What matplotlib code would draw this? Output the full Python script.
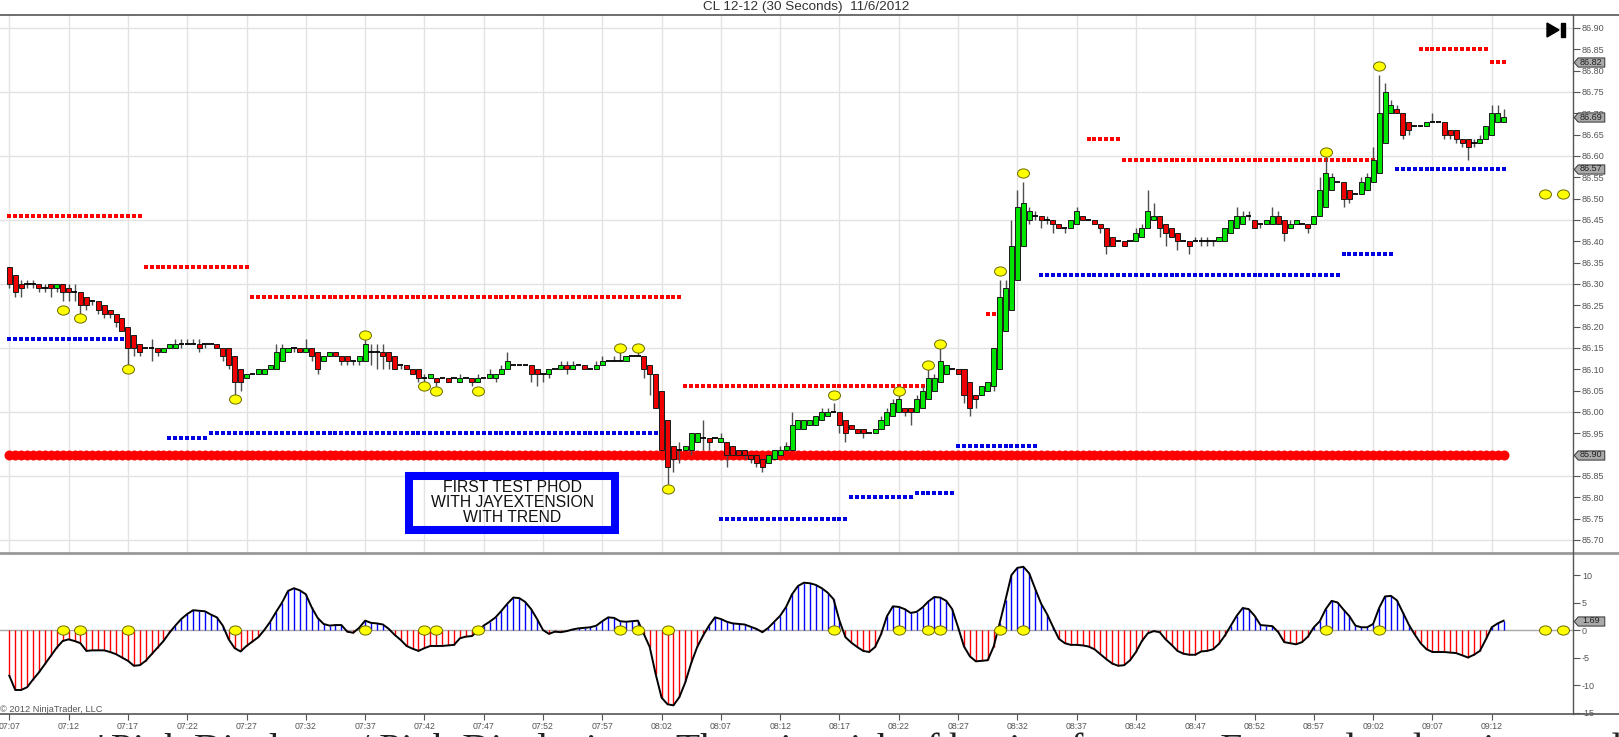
import numpy as np
import matplotlib
matplotlib.use("Agg")
from matplotlib import pyplot as plt
from matplotlib.path import Path
from matplotlib.transforms import Affine2D, blended_transform_factory
from matplotlib.patches import Rectangle, Polygon
from matplotlib.lines import Line2D

plt.rcParams['font.family'] = ['Liberation Sans', 'DejaVu Sans']

title = "CL 12-12 (30 Seconds)  11/6/2012"

# 30 second bars, 07:07:00 .. 09:13:00
opens = [
    86.34, 86.32, 86.30, 86.30, 86.30, 86.30, 86.29, 86.30, 86.29, 86.30,
    86.29, 86.28, 86.28, 86.27, 86.26, 86.26, 86.25, 86.24, 86.23, 86.22,
    86.20, 86.18, 86.16, 86.15, 86.15, 86.15, 86.14, 86.15, 86.15, 86.16,
    86.16, 86.16, 86.16, 86.16, 86.16, 86.16, 86.15, 86.15, 86.13, 86.10,
    86.08, 86.09, 86.09, 86.09, 86.10, 86.10, 86.12, 86.14, 86.15, 86.15,
    86.14, 86.15, 86.14, 86.12, 86.13, 86.14, 86.13, 86.13, 86.12, 86.12,
    86.12, 86.14, 86.14, 86.14, 86.14, 86.13, 86.11, 86.11, 86.10, 86.10,
    86.08, 86.08, 86.08, 86.08, 86.08, 86.08, 86.07, 86.08, 86.08, 86.07,
    86.08, 86.08, 86.08, 86.09, 86.10, 86.11, 86.11, 86.11, 86.11, 86.10,
    86.09, 86.09, 86.10, 86.10, 86.11, 86.10, 86.11, 86.11, 86.10, 86.10,
    86.11, 86.12, 86.12, 86.12, 86.12, 86.13, 86.13, 86.13, 86.11, 86.09,
    86.05, 85.98, 85.92, 85.91, 85.91, 85.91, 85.93, 85.94, 85.94, 85.94,
    85.93, 85.93, 85.92, 85.91, 85.91, 85.90, 85.90, 85.89, 85.88, 85.89,
    85.90, 85.91, 85.91, 85.96, 85.96, 85.97, 85.97, 85.98, 85.99, 86.00,
    86.00, 85.98, 85.97, 85.96, 85.96, 85.95, 85.95, 85.96, 85.97, 85.99,
    86.00, 86.01, 86.01, 86.00, 86.01, 86.03, 86.05, 86.07, 86.09, 86.10,
    86.10, 86.10, 86.07, 86.04, 86.04, 86.05, 86.06, 86.10, 86.19, 86.24,
    86.31, 86.39, 86.45, 86.46, 86.46, 86.45, 86.45, 86.44, 86.43, 86.43,
    86.44, 86.46, 86.45, 86.45, 86.44, 86.43, 86.41, 86.40, 86.40, 86.40,
    86.40, 86.41, 86.43, 86.45, 86.46, 86.44, 86.43, 86.42, 86.40, 86.40,
    86.40, 86.40, 86.40, 86.40, 86.40, 86.40, 86.42, 86.43, 86.44, 86.46,
    86.45, 86.44, 86.44, 86.44, 86.46, 86.45, 86.43, 86.44, 86.44, 86.44,
    86.44, 86.46, 86.48, 86.52, 86.54, 86.54, 86.52, 86.51, 86.51, 86.52,
    86.54, 86.56, 86.63, 86.70, 86.71, 86.70, 86.68, 86.67, 86.67, 86.67,
    86.68, 86.68, 86.68, 86.66, 86.66, 86.64, 86.64, 86.63, 86.63, 86.64,
    86.65, 86.68, 86.68,
]
closes = [
    86.30, 86.28, 86.29, 86.30, 86.30, 86.29, 86.29, 86.29, 86.30, 86.28,
    86.28, 86.28, 86.25, 86.25, 86.26, 86.24, 86.23, 86.23, 86.21, 86.19,
    86.15, 86.15, 86.14, 86.15, 86.15, 86.14, 86.15, 86.16, 86.16, 86.16,
    86.16, 86.16, 86.15, 86.16, 86.16, 86.15, 86.13, 86.11, 86.07, 86.07,
    86.09, 86.09, 86.10, 86.10, 86.11, 86.14, 86.15, 86.15, 86.15, 86.14,
    86.15, 86.13, 86.10, 86.13, 86.14, 86.13, 86.12, 86.12, 86.12, 86.13,
    86.16, 86.14, 86.14, 86.13, 86.12, 86.10, 86.11, 86.10, 86.09, 86.08,
    86.08, 86.09, 86.07, 86.08, 86.07, 86.08, 86.08, 86.08, 86.07, 86.08,
    86.08, 86.09, 86.09, 86.10, 86.12, 86.11, 86.11, 86.11, 86.09, 86.09,
    86.09, 86.10, 86.10, 86.11, 86.10, 86.11, 86.11, 86.10, 86.10, 86.11,
    86.12, 86.12, 86.12, 86.12, 86.13, 86.13, 86.13, 86.10, 86.09, 86.01,
    85.91, 85.87, 85.89, 85.91, 85.92, 85.95, 85.95, 85.94, 85.93, 85.94,
    85.94, 85.90, 85.90, 85.90, 85.90, 85.89, 85.88, 85.87, 85.90, 85.91,
    85.91, 85.92, 85.97, 85.98, 85.98, 85.98, 85.99, 86.00, 86.00, 86.00,
    85.97, 85.95, 85.96, 85.95, 85.95, 85.95, 85.96, 85.98, 86.00, 86.02,
    86.03, 86.00, 86.00, 86.03, 86.05, 86.08, 86.08, 86.12, 86.11, 86.10,
    86.09, 86.04, 86.01, 86.03, 86.06, 86.07, 86.15, 86.27, 86.29, 86.39,
    86.48, 86.49, 86.47, 86.46, 86.45, 86.45, 86.44, 86.43, 86.43, 86.45,
    86.47, 86.45, 86.45, 86.44, 86.43, 86.39, 86.39, 86.40, 86.39, 86.40,
    86.42, 86.43, 86.47, 86.46, 86.43, 86.42, 86.41, 86.40, 86.40, 86.39,
    86.40, 86.40, 86.40, 86.40, 86.41, 86.43, 86.45, 86.46, 86.46, 86.46,
    86.43, 86.44, 86.45, 86.46, 86.44, 86.42, 86.44, 86.45, 86.44, 86.43,
    86.46, 86.52, 86.56, 86.55, 86.54, 86.50, 86.50, 86.51, 86.54, 86.55,
    86.59, 86.70, 86.75, 86.72, 86.70, 86.65, 86.66, 86.67, 86.67, 86.68,
    86.68, 86.68, 86.65, 86.65, 86.64, 86.63, 86.62, 86.63, 86.64, 86.67,
    86.70, 86.70, 86.69,
]
# wick length beyond the body, in ticks of 0.01
wick_up = [
    0, 0, 1, 1, 1, 0, 1, 0, 0, 0,   1, 2, 0, 0, 0, 0, 0, 0, 0, 0,
    0, 0, 0, 0, 2, 0, 0, 0, 1, 1,   1, 1, 1, 0, 0, 0, 0, 0, 0, 0,
    0, 0, 0, 0, 0, 2, 1, 0, 0, 0,   2, 0, 0, 0, 0, 0, 0, 0, 0, 0,
    1, 2, 2, 2, 0, 0, 0, 0, 0, 0,   1, 0, 0, 0, 0, 0, 1, 0, 0, 1,
    0, 1, 0, 1, 2, 0, 0, 0, 0, 0,   0, 0, 0, 1, 1, 1, 0, 0, 0, 1,
    1, 0, 1, 2, 0, 0, 1, 0, 0, 0,   0, 0, 0, 2, 0, 0, 0, 4, 0, 0,
    1, 0, 0, 0, 0, 0, 0, 0, 0, 0,   1, 1, 3, 0, 0, 0, 0, 1, 1, 2,
    0, 0, 0, 0, 0, 0, 0, 1, 1, 1,   1, 0, 0, 1, 1, 2, 1, 3, 0, 0,
    0, 0, 0, 0, 0, 0, 0, 4, 2, 6,   4, 5, 1, 1, 0, 1, 0, 0, 0, 0,
    1, 0, 0, 0, 0, 0, 0, 0, 0, 0,   1, 1, 5, 3, 0, 0, 0, 0, 0, 0,
    1, 1, 1, 0, 0, 0, 0, 2, 1, 1,   0, 0, 0, 2, 1, 0, 1, 0, 0, 0,
    0, 3, 4, 1, 0, 0, 0, 0, 1, 1,   3, 9, 2, 1, 1, 0, 0, 0, 0, 0,
    2, 0, 0, 0, 0, 0, 0, 1, 1, 0,   2, 2, 2,
]
wick_dn = [
    1, 1, 2, 1, 1, 1, 1, 2, 1, 2,   2, 2, 2, 1, 1, 1, 1, 1, 1, 0,
    4, 2, 1, 0, 3, 1, 0, 0, 0, 1,   0, 0, 1, 1, 0, 0, 1, 1, 3, 2,
    0, 0, 0, 0, 0, 0, 0, 0, 1, 0,   0, 1, 1, 0, 0, 0, 1, 1, 1, 1,
    0, 3, 4, 3, 2, 0, 1, 0, 0, 1,   1, 0, 1, 0, 0, 0, 0, 0, 1, 0,
    0, 0, 1, 0, 0, 0, 0, 0, 2, 3,   2, 1, 0, 0, 1, 0, 0, 0, 0, 0,
    0, 0, 0, 0, 0, 0, 0, 2, 5, 0,   0, 4, 3, 3, 0, 1, 0, 3, 2, 0,
    0, 3, 0, 0, 1, 1, 1, 1, 0, 0,   0, 0, 0, 0, 0, 0, 0, 0, 0, 0,
    2, 2, 0, 0, 1, 0, 0, 0, 0, 0,   0, 1, 3, 0, 0, 0, 0, 0, 0, 0,
    0, 2, 2, 2, 0, 0, 1, 0, 0, 0,   0, 0, 1, 1, 2, 1, 2, 0, 1, 0,
    0, 0, 0, 0, 1, 2, 0, 0, 0, 0,   0, 0, 0, 0, 2, 3, 0, 2, 0, 2,
    0, 1, 1, 1, 0, 0, 0, 0, 0, 1,   0, 1, 0, 0, 0, 2, 0, 0, 0, 1,
    0, 0, 0, 0, 0, 2, 1, 0, 0, 0,   0, 0, 0, 0, 0, 1, 1, 0, 0, 0,
    0, 0, 1, 1, 1, 1, 3, 1, 0, 0,   0, 0, 0,
]
osc = [
    -8.3, -10.9, -10.9, -10.4, -9.0, -7.7, -6.2, -4.7, -3.2, -2.0,
    -1.7, -2.0, -2.4, -3.8, -3.7, -3.7, -3.7, -4.0, -4.4, -5.0,
    -5.6, -6.5, -6.4, -5.6, -4.4, -3.2, -2.0, -0.5, 0.8, 2.0,
    2.9, 3.6, 3.5, 3.4, 2.8, 2.3, 0.8, -1.7, -3.3, -3.9,
    -2.9, -2.1, -1.3, 0.0, 1.5, 3.3, 5.0, 7.1, 7.6, 7.2,
    6.5, 4.1, 2.2, 1.1, 0.8, 0.9, 0.9, -0.3, -0.5, 0.4,
    1.7, 1.3, 1.2, 1.0, 0.2, -0.9, -1.8, -2.9, -3.4, -3.8,
    -3.3, -2.9, -2.9, -2.9, -2.8, -2.7, -1.5, -1.2, -1.1, -0.2,
    0.8, 1.5, 2.3, 3.5, 4.8, 5.9, 5.8, 5.1, 3.8, 2.0,
    0.0, -0.7, -0.3, -0.4, -0.2, 0.1, 0.3, 0.4, 0.5, 0.8,
    1.6, 2.3, 2.2, 1.6, 1.5, 1.6, 1.7, -0.7, -3.1, -8.0,
    -12.3, -13.5, -13.7, -12.2, -9.5, -6.0, -3.1, -1.0, 0.8, 2.3,
    2.0, 1.5, 1.2, 1.1, 1.0, 0.6, 0.2, -0.4, 0.4, 1.5,
    2.6, 4.2, 6.5, 8.0, 8.6, 8.5, 8.2, 7.6, 6.8, 5.6,
    1.7, -1.3, -2.3, -3.1, -3.8, -4.0, -3.1, -0.8, 2.5, 4.3,
    4.2, 3.8, 3.1, 3.3, 4.1, 5.2, 6.0, 5.9, 5.3, 3.8,
    0.5, -3.0, -4.8, -5.7, -5.6, -5.5, -3.0, 1.2, 5.5, 10.0,
    11.3, 11.5, 10.3, 7.5, 4.8, 2.9, 0.6, -1.6, -2.4, -2.7,
    -2.7, -2.8, -3.0, -3.5, -4.4, -5.3, -6.1, -6.5, -6.4, -5.5,
    -4.0, -2.0, -0.6, -0.2, -0.4, -1.7, -2.7, -3.8, -4.3, -4.5,
    -4.5, -3.9, -3.8, -3.5, -2.5, -1.0, 0.8, 2.6, 4.0, 3.8,
    2.6, 0.9, 0.8, 0.7, -0.4, -2.2, -2.4, -2.6, -2.2, -1.2,
    0.5, 1.6, 3.8, 5.3, 5.0, 3.7, 2.5, 0.8, 0.5, 0.5,
    1.1, 4.0, 6.1, 6.2, 5.4, 3.2, 1.0, -0.8, -2.4, -3.5,
    -4.0, -4.0, -4.0, -4.1, -4.2, -4.6, -5.0, -4.5, -3.8, -1.7,
    0.5, 1.2, 1.69,
]

swing_bars = [9, 12, 20, 38, 60, 70, 72, 79, 103, 106, 111, 139, 150, 155, 157, 167, 171, 222, 231]
swing_prices = [86.24, 86.22, 86.10, 86.03, 86.18, 86.06, 86.05, 86.05, 86.15, 86.15,
                85.82, 86.04, 86.05, 86.11, 86.16, 86.33, 86.56, 86.61, 86.81]
proj_bars = [259, 262]
proj_price = 86.51

red_start = [0, 23, 41, 114, 165, 182, 188, 238, 250]
red_end = [22, 40, 113, 154, 166, 187, 230, 249, 252]
red_price = [86.46, 86.34, 86.27, 86.06, 86.23, 86.64, 86.59, 86.85, 86.82]
blue_start = [0, 27, 34, 120, 142, 153, 160, 174, 225, 234]
blue_end = [19, 33, 109, 141, 152, 159, 173, 224, 233, 252]
blue_price = [86.17, 85.94, 85.95, 85.75, 85.80, 85.81, 85.92, 86.32, 86.37, 86.57]
support_price = 85.90

tick_bars = list(range(0, 251, 10))
tick_labels = ["07:07", "07:12", "07:17", "07:22", "07:27", "07:32", "07:37", "07:42", "07:47",
               "07:52", "07:57", "08:02", "08:07", "08:12", "08:17", "08:22", "08:27", "08:32",
               "08:37", "08:42", "08:47", "08:52", "08:57", "09:02", "09:07", "09:12"]
price_ticks = [85.70, 85.75, 85.80, 85.85, 85.90, 85.95, 86.00, 86.05, 86.10, 86.15, 86.20, 86.25,
               86.30, 86.35, 86.40, 86.45, 86.50, 86.55, 86.60, 86.65, 86.70, 86.75, 86.80, 86.85, 86.90]
price_grid = [85.70, 85.85, 86.00, 86.15, 86.30, 86.45, 86.60, 86.75, 86.90]
osc_ticks = [10, 5, 0, -5, -10, -15]
tag_prices = [86.82, 86.69, 86.57, 85.90]
osc_tag = 1.69
note_lines = ["FIRST TEST PHOD", "WITH JAYEXTENSION", "WITH TREND"]
caption = ("*Pink Displaces / Pink Displaying \u2013 The price risk of buying futures \u2013 "
           "Forward and options trading \u2013 The price risk of buying")

W, H = 1619, 737


def fx(px):
    return px / W


def fy(py):
    return 1 - py / H


fig = plt.figure(figsize=(W / 100, H / 100), dpi=100)
ax = fig.add_axes([0, fy(553), fx(1573), (553 - 15) / H])
ax2 = fig.add_axes([0, fy(714), fx(1573), (714 - 553) / H])

xlim = (-1.57, 263.7)
for a in (ax, ax2):
    a.set_xlim(*xlim)
    for s in a.spines.values():
        s.set_visible(False)
    a.set_facecolor('white')
ax.set_ylim(85.6694, 86.9302)
ax2.set_ylim(-15.27, 14.0)

# grid
ax.set_xticks(tick_bars)
ax.tick_params(axis='x', length=0, labelbottom=False)
ax.grid(axis='x', color='#e3e3e3', lw=1, zorder=0)
for g in price_grid:
    ax.axhline(g, color='#e3e3e3', lw=1, zorder=0)

# candles
x = np.arange(len(closes))
o = np.array(opens)
c = np.array(closes)
hi = np.maximum(o, c) + np.array(wick_up) * 0.01
lo = np.minimum(o, c) - np.array(wick_dn) * 0.01
ax.vlines(x, lo, hi, color='#505050', lw=1.0, zorder=3)
doji = np.isclose(o, c)
body = ~doji
cols = np.where(c > o, '#00e600', '#ee0000')
ax.bar(x[body], (c - o)[body], bottom=o[body], width=0.85, color=cols[body],
       edgecolor='#1a1a1a', lw=0.7, zorder=4)
ax.hlines(c[doji], x[doji] - 0.45, x[doji] + 0.45, color='black', lw=1.3, zorder=4)

# levels
for s, e, p in zip(red_start, red_end, red_price):
    xs = np.arange(s, e + 1)
    ax.plot(xs, [p] * len(xs), ls='none', marker='s', ms=2.6, mew=0, color='#ff0000', zorder=2)
for s, e, p in zip(blue_start, blue_end, blue_price):
    xs = np.arange(s, e + 1)
    ax.plot(xs, [p] * len(xs), ls='none', marker='s', ms=2.6, mew=0, color='#0000e0', zorder=2)
ax.plot(x, [support_price] * len(x), ls='none', marker='o', ms=7.2, mew=0, color='#ff0000', zorder=2)

# swing dots
ell = Path.unit_circle().transformed(Affine2D().scale(1.3, 1.0))
dot_kw = dict(ls='none', marker=ell, ms=8.6, mfc='#ffff00', mec='#6b6b00', mew=0.7, zorder=6, clip_on=False)
ax.plot(swing_bars, swing_prices, **dot_kw)
ax.plot(proj_bars, [proj_price] * len(proj_bars), **dot_kw)

# price axis on right
ax.yaxis.tick_right()
ax.set_yticks(price_ticks)
ax.set_yticklabels(['%.2f' % v for v in price_ticks])
ax.tick_params(axis='y', length=5, width=0.8, color='#555555', labelsize=6.5,
               labelcolor='#555555', pad=1.5)

# oscillator
ov = np.array(osc)
ocols = np.where(ov >= 0, '#0000ff', '#ff0000')
ax2.axhline(0, color='#a8a8a8', lw=1, zorder=1)
ax2.vlines(x, 0, ov, colors=ocols, lw=1.0, zorder=2)
ax2.plot(x, ov, color='black', lw=1.4, zorder=3)
ax2.plot(swing_bars, [0] * len(swing_bars), **dot_kw)
ax2.plot(proj_bars, [0] * len(proj_bars), **dot_kw)
ax2.yaxis.tick_right()
ax2.set_yticks(osc_ticks)
ax2.set_yticklabels([str(v) for v in osc_ticks])
ax2.tick_params(axis='y', length=5, width=0.8, color='#555555', labelsize=6.5,
                labelcolor='#555555', pad=1.5)
ax2.set_xticks(tick_bars)
ax2.set_xticklabels(tick_labels)
ax2.tick_params(axis='x', length=4, width=0.8, color='#555555', labelsize=6.3,
                labelcolor='#555555', pad=1.5)
ax2.text(0.0, fy(710), "\u00a9 2012 NinjaTrader, LLC", transform=fig.transFigure,
         fontsize=6.7, color='#555555', va='center', ha='left')

# price tags on the axis
tag = Path([(-1.0, 0.0), (-0.74, 0.3), (1.0, 0.3), (1.0, -0.3), (-0.74, -0.3), (-1.0, 0.0)],
           [Path.MOVETO, Path.LINETO, Path.LINETO, Path.LINETO, Path.LINETO, Path.CLOSEPOLY])
tag_kw = dict(ls='none', marker=tag, ms=22, mfc='#a9a9a9', mec='#333333', mew=0.7,
              clip_on=False, zorder=20)
for a, vals, fmt in ((ax, tag_prices, '%.2f'), (ax2, [osc_tag], '%.2f')):
    tr = blended_transform_factory(fig.transFigure, a.transData)
    for v in vals:
        a.plot([fx(1589)], [v], transform=tr, **tag_kw)
        a.text(fx(1591), v, fmt % v, transform=tr, fontsize=6.5, color='#222222',
               ha='center', va='center', zorder=21, clip_on=False)

# note box
fig.add_artist(Rectangle((fx(409), fy(530)), (614.5 - 409) / W, (530 - 476) / H,
                         transform=fig.transFigure, fill=False, ec='#0000ff', lw=5.8))
for i, line in enumerate(note_lines):
    fig.text(fx(512), fy(487 + 15.5 * i), line, fontsize=11.3, color='#111111',
             ha='center', va='center')

# frame lines
for py, col, lw in ((15, '#555555', 1.2), (553, '#999999', 2.0), (714, '#555555', 1.2)):
    fig.add_artist(Line2D([0, 1], [fy(py), fy(py)], transform=fig.transFigure, color=col, lw=lw))
fig.add_artist(Line2D([fx(1573), fx(1573)], [fy(15), fy(714)], transform=fig.transFigure,
                      color='#555555', lw=1.0))

# go-to-end icon
fig.add_artist(Polygon([(fx(1547), fy(23)), (fx(1547), fy(37)), (fx(1559), fy(30))],
                       closed=True, transform=fig.transFigure, color='black'))
fig.add_artist(Rectangle((fx(1561), fy(37)), 4 / W, 14 / H, transform=fig.transFigure, color='black'))

fig.text(fx(806), fy(7), title, fontsize=9.7, color='#333333', ha='center', va='center')

fig.text(fx(91), fy(761), caption, fontsize=28.6, family=['Liberation Serif', 'DejaVu Serif'],
         color='#222222', ha='left', va='baseline')

fig.savefig('out.png', dpi=100, facecolor='white')
